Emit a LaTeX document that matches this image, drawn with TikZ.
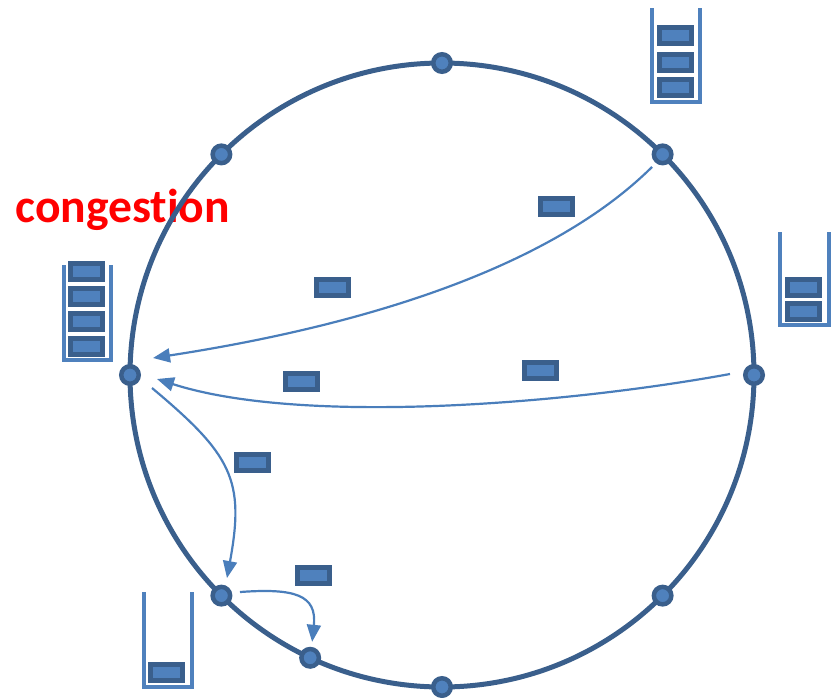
\documentclass[tikz,border=0pt]{standalone}
\usepackage{fontspec}
\newfontfamily\labelfont[RawFeature=-liga]{Carlito}
\usetikzlibrary{arrows.meta,calc}
\definecolor{ringblue}{HTML}{3A5F8C}
\definecolor{fillblue}{HTML}{4F81BD}
\definecolor{flowblue}{HTML}{4A7EBB}
\begin{document}
\begin{tikzpicture}[x=0.5pt,y=-0.5pt,
  stop/.style={circle, minimum size=8.75pt, inner sep=0pt, outer sep=0pt,
    fill=fillblue, draw=ringblue, line width=2.25pt},
  packet/.style={rectangle, minimum width=16pt, minimum height=8pt,
    inner sep=0pt, fill=fillblue, draw=ringblue, line width=2.5pt},
  queue/.style={draw=fillblue, line width=2pt},
  flow/.style={draw=flowblue, line width=1.1pt,
    -{Triangle[length=8.5pt,width=7pt]}}]
\useasboundingbox (0,0) rectangle (836,697);

% label
\node[anchor=base west, inner sep=0pt, text=red,
  font=\labelfont\bfseries\fontsize{23.8}{28}\selectfont] (cong) at (15,222) {congestion};

% queues
\draw[queue] (652,8) -- (652,102) -- (700,102) -- (700,8);
\draw[queue] (780,232) -- (780,325) -- (829,325) -- (829,232);
\draw[queue] (63.5,265) -- (63.5,360) -- (111,360) -- (111,265);
\draw[queue] (144,592) -- (144,687) -- (191.5,687) -- (191.5,592);

% ring
\node[circle, draw=ringblue, line width=2.5pt, minimum size=312pt,
  inner sep=0pt, outer sep=0pt] (ring) at (442,375) {};

% anchor points of the stations on the ring
\foreach \a/\n in {0/e,45/ne,90/n,135/nw,180/w,225/sw,245.6/ssw,270/s,315/se}
  \coordinate (at\n) at (ring.\a);

% arrow end points
\coordinate (s1) at ($(atne)+(-10.6,12.6)$);
\coordinate (e1) at ($(atw)+(23,-17)$);
\coordinate (s2) at ($(ate)+(-24,-1)$);
\coordinate (e2) at ($(atw)+(27,4)$);
\coordinate (s3) at ($(atw)+(22,13)$);
\coordinate (e3) at ($(atsw)+(5.6,-17.6)$);
\coordinate (s4) at ($(atsw)+(18.6,-3.6)$);
\coordinate (e4) at ($(atssw)+(2,-16)$);

% flows
\draw[flow] (s1) .. controls (547,271) and (355,327) .. (e1);
\draw[flow] (s2) .. controls (560,405) and (300,425) .. (e2);
\draw[flow] (s3) .. controls (232,455) and (245,480) .. (e3);
\draw[flow] (s4) .. controls (295,588) and (317,595) .. (e4);

% stations
\foreach \n in {e,ne,n,nw,w,sw,ssw,s,se}
  \node[stop] (d\n) at (at\n) {};

% packets in flight
\node[packet] (p1) at (556.5,206.5) {};
\node[packet] (p2) at (332,287) {};
\node[packet] (p3) at (301.5,381.5) {};
\node[packet] (p4) at (540.5,370.5) {};
\node[packet] (p5) at (252,462.5) {};
\node[packet] (p6) at (313,575) {};

% packets in queues
\node[packet] (q1) at (675.5,35.5) {};
\node[packet] (q2) at (675.5,62.5) {};
\node[packet] (q3) at (675.5,87.5) {};
\node[packet] (r1) at (803.5,287) {};
\node[packet] (r2) at (803.5,311.5) {};
\node[packet] (l1) at (86,271) {};
\node[packet] (l2) at (86,296) {};
\node[packet] (l3) at (86,321) {};
\node[packet] (l4) at (86,346) {};
\node[packet] (b1) at (166,672.5) {};
\end{tikzpicture}
\end{document}
